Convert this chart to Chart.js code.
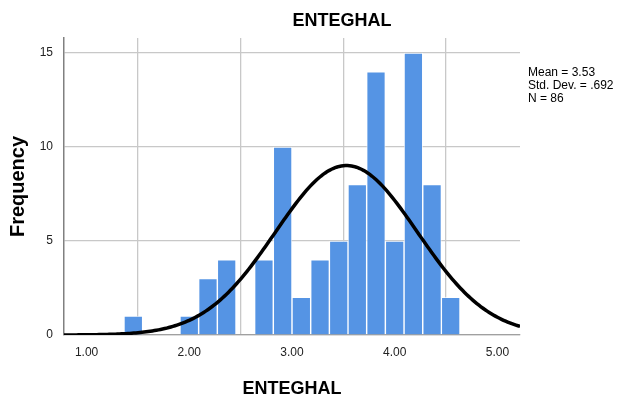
<!DOCTYPE html>
<html>
<head>
<meta charset="utf-8">
<script src="https://cdn.jsdelivr.net/npm/chart.js@4"></script>
<style>
  html, body { margin: 0; padding: 0; background: #fff; }
  #wrap { position: relative; width: 619px; height: 399px; }
</style>
</head>
<body>
<div id="wrap"><canvas id="histo" width="619" height="399"></canvas></div>
<script>
// bin centres and counts
const binCenters = [1.455, 1.636, 1.818, 2.000, 2.182, 2.364, 2.545, 2.727, 2.909,
                    3.091, 3.273, 3.455, 3.636, 3.818, 4.000, 4.182, 4.364, 4.545]
const counts     = [1, 0, 0, 1, 3, 4, 0, 4, 10, 2, 4, 5, 8, 14, 5, 15, 8, 2]
const binWidth = 0.1818

// stats printed at the right of the chart
const mean = 3.53
const stdDev = 0.692
const n = 86
const statLines = ["Mean = 3.53", "Std. Dev. = .692", "N = 86"]

const xTicks = [1, 2, 3, 4, 5]
const yTicks = [0, 5, 10, 15]
const xMin = 0.78, xMax = 5.22
const yMax = 15.8

const titleText = "ENTEGHAL"

// fitted normal curve, scaled to frequency per bin
const curvePoints = []
for (let x = xMin; x <= xMax + 1e-9; x += 0.02) {
    let z = (x - mean) / stdDev
    let y = n * binWidth * Math.exp(-0.5 * z * z) / (stdDev * Math.sqrt(2 * Math.PI))
    curvePoints.push({x: x, y: y})
}

const barPoints = binCenters.map((c, i) => ({x: c, y: counts[i]}))

// top title + stats block, drawn onto the canvas
const extraText = {
    id: "extraText",
    afterDraw(chart) {
        const ctx = chart.ctx
        ctx.save()
        ctx.fillStyle = "#000"
        ctx.textAlign = "center"
        ctx.textBaseline = "middle"
        ctx.font = "bold 18px 'Liberation Sans', Arial, sans-serif"
        ctx.fillText(titleText, 342, 21)

        ctx.textAlign = "left"
        ctx.textBaseline = "alphabetic"
        ctx.font = "12px 'Liberation Sans', Arial, sans-serif"
        const left = chart.chartArea.right + 8
        statLines.forEach((s, i) => ctx.fillText(s, left, 76 + i * 13))
        ctx.restore()
    }
}

const config = {
    type: "bar",
    data: {
        datasets: [
            {
                type: "line",
                data: curvePoints,
                borderColor: "#000",
                borderWidth: 3.5,
                pointRadius: 0,
                tension: 0,
                order: 0
            },
            {
                type: "bar",
                data: barPoints,
                backgroundColor: "#5594e4",
                borderColor: "rgba(255,255,255,0.65)",
                borderWidth: 1,
                borderSkipped: "bottom",
                barPercentage: 1,
                categoryPercentage: 1,
                order: 1
            }
        ]
    },
    options: {
        responsive: false,
        animation: false,
        layout: {
            padding: {top: 38, right: 99, left: 0, bottom: 0}
        },
        plugins: {
            legend: {display: false},
            tooltip: {enabled: false}
        },
        scales: {
            x: {
                type: "linear",
                min: xMin,
                max: xMax,
                offset: false,
                afterBuildTicks: s => { s.ticks = xTicks.map(v => ({value: v})) },
                afterFit: s => { s.height = 64 },
                grid: {color: "#c8c8c8", lineWidth: 1.3, drawTicks: false},
                border: {color: "#a0a0a0", width: 1.3},
                ticks: {
                    padding: 10,
                    color: "#222",
                    font: {family: "'Liberation Sans', Arial, sans-serif", size: 12},
                    callback: v => v.toFixed(2)
                },
                title: {
                    display: true,
                    text: titleText,
                    color: "#000",
                    padding: {top: 0, bottom: 0},
                    font: {family: "'Liberation Sans', Arial, sans-serif", size: 18, weight: "bold", lineHeight: 1.1}
                }
            },
            y: {
                min: 0,
                max: yMax,
                afterBuildTicks: s => { s.ticks = yTicks.map(v => ({value: v})) },
                afterFit: s => { s.width = 64 },
                grid: {color: "#c8c8c8", lineWidth: 1.3, drawTicks: false},
                border: {color: "#808080", width: 1.5},
                ticks: {
                    padding: 11,
                    color: "#222",
                    font: {family: "'Liberation Sans', Arial, sans-serif", size: 12}
                },
                title: {
                    display: true,
                    text: "Frequency",
                    color: "#000",
                    padding: {top: 6, bottom: 0},
                    font: {family: "'Liberation Sans', Arial, sans-serif", size: 20, weight: "bold"}
                }
            }
        }
    },
    plugins: [extraText]
}

const histoChart = new Chart(document.getElementById("histo").getContext("2d"), config)
</script>
</body>
</html>
